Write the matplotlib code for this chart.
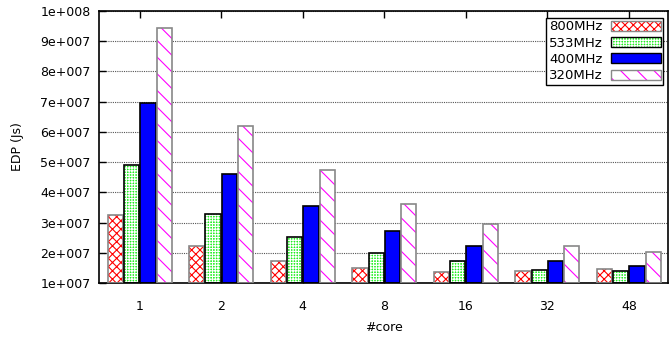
import matplotlib.pyplot as plt
import numpy as np

cores = ['1', '2', '4', '8', '16', '32', '48']
series = ['800MHz', '533MHz', '400MHz', '320MHz']
edp_800 = [3.25e7, 2.22e7, 1.73e7, 1.50e7, 1.36e7, 1.40e7, 1.46e7]
edp_533 = [4.90e7, 3.28e7, 2.52e7, 2.00e7, 1.73e7, 1.43e7, 1.40e7]
edp_400 = [6.95e7, 4.60e7, 3.55e7, 2.72e7, 2.22e7, 1.73e7, 1.56e7]
edp_320 = [9.44e7, 6.20e7, 4.73e7, 3.62e7, 2.95e7, 2.22e7, 2.03e7]

plt.rcParams['font.family'] = 'DejaVu Sans'
plt.rcParams['hatch.linewidth'] = 0.8

fig = plt.figure(figsize=(6.69, 3.42), dpi=100)
ax = fig.add_axes([99 / 669, 1 - 283 / 342, 569 / 669, 272 / 342])

x = np.arange(len(cores))
w = 0.2

# estilos: (cara, trama, color de trama, borde)
estilos = [
    ('white', 'xxxx', 'red', '#888888'),
    ('#22ee22', '++++++', 'white', 'black'),
    ('#0000ff', None, '#0000ff', 'black'),
    ('white', '\\\\', '#ff00ff', '#888888'),
]
valores = [edp_800, edp_533, edp_400, edp_320]

handles = []
for i, (vals, (fc, hatch, hc, ec)) in enumerate(zip(valores, estilos)):
    pos = x + (i - 1.5) * w
    alto = np.array(vals) - 1e7
    # relleno con trama
    ax.bar(pos, alto, w * 0.94, bottom=1e7, facecolor=fc, hatch=hatch,
           edgecolor=hc, linewidth=0, zorder=2)
    # borde
    ax.bar(pos, alto, w * 0.94, bottom=1e7, fill=False,
           edgecolor=ec, linewidth=1.2, zorder=3)
    h1 = plt.Rectangle((0, 0), 1, 1, facecolor=fc, hatch=hatch, edgecolor=hc, linewidth=0)
    h2 = plt.Rectangle((0, 0), 1, 1, fill=False, edgecolor=ec, linewidth=1.0)
    handles.append((h1, h2))

ax.set_xlim(-0.5, 6.48)
ax.set_ylim(1e7, 1e8)
yt = np.arange(1e7, 1.01e8, 1e7)
ax.set_yticks(yt)
ax.set_yticklabels(['%de+%03d' % (round(v / 10 ** np.floor(np.log10(v))), np.floor(np.log10(v)))
                    for v in yt])
ax.set_xticks(x)
ax.set_xticklabels(cores)
ax.tick_params(axis='both', labelsize=9, direction='in', length=5, width=1)
ax.tick_params(axis='x', top=True, pad=12)
ax.tick_params(axis='y', pad=6)
ax.yaxis.grid(True, linestyle=(0, (1, 1)), color='#555555', linewidth=0.8, zorder=0)
ax.set_axisbelow(True)
for s in ax.spines.values():
    s.set_linewidth(1.2)

ax.set_xlabel('#core', fontsize=9, labelpad=6)
ax.set_ylabel('EDP (Js)', fontsize=9, labelpad=12)

leg = ax.legend(handles, series, loc='upper right', bbox_to_anchor=(0.992, 0.975),
                fontsize=9.5, frameon=True, fancybox=False, markerfirst=False,
                handlelength=3.8, handleheight=0.8, borderpad=0.2,
                labelspacing=0.25, handletextpad=0.6, borderaxespad=0)
leg.get_frame().set_edgecolor('black')
leg.get_frame().set_linewidth(1.0)
leg.get_frame().set_alpha(1)

fig.savefig('out.png', dpi=100)
